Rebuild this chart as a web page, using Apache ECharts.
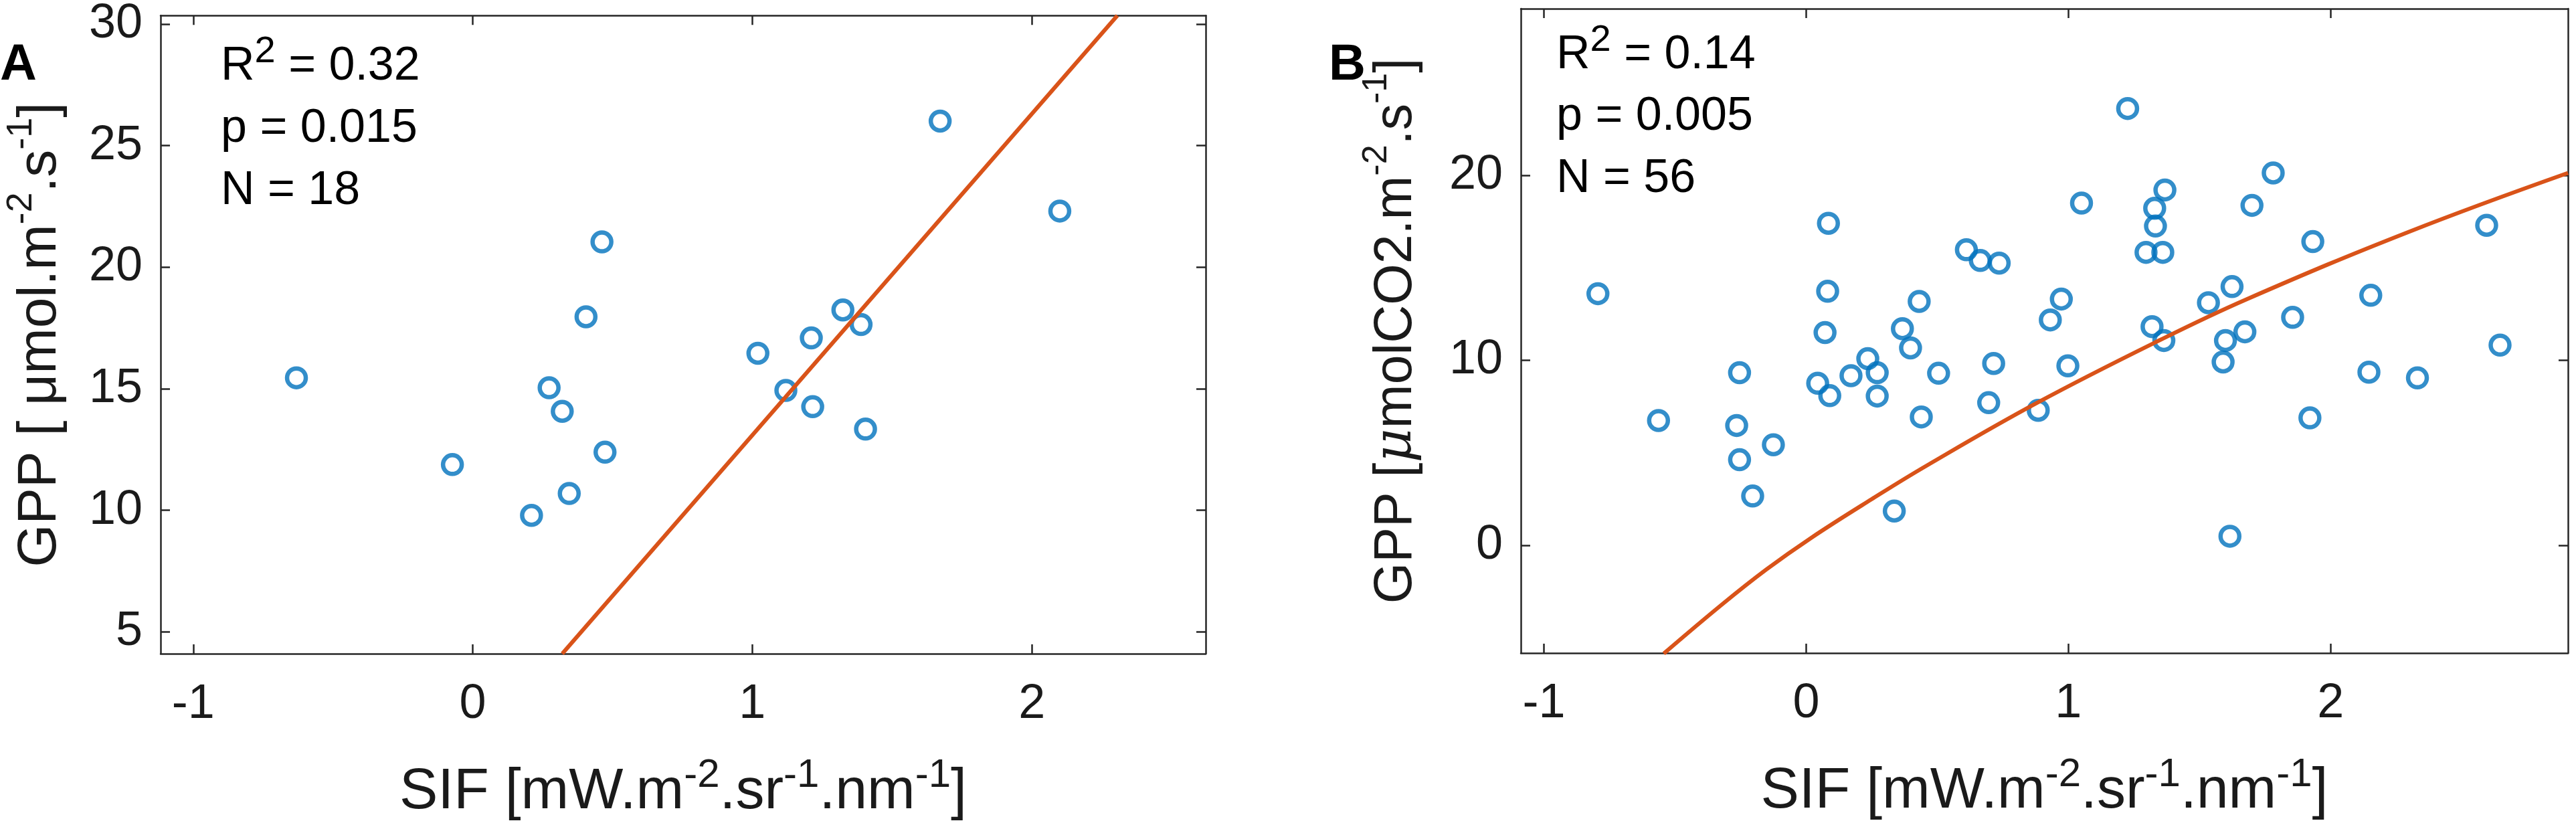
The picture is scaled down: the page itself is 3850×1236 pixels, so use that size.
<!DOCTYPE html>
<html>
<head>
<meta charset="utf-8">
<script src="https://cdn.jsdelivr.net/npm/echarts@6.0.0/dist/echarts.min.js"></script>
<style>
  html, body { margin: 0; padding: 0; background: #fff; }
  #chart { width: 3850px; height: 1236px; }
</style>
</head>
<body>
<div id="chart"></div>
<script>
// panel A : SIF vs GPP (N = 18)
const sifA = [-0.631, -0.073, 0.462, 0.405, 0.273, 0.320, 0.473, 0.345, 0.210,
    2.100, 1.324, 1.389, 1.211, 1.020, 1.120, 1.216, 1.405, 1.672];
const gppA = [15.45, 11.88, 21.04, 17.96, 15.04, 14.07, 12.39, 10.69, 9.79,
    22.31, 18.24, 17.64, 17.09, 16.46, 14.93, 14.26, 13.34, 26.01];
const fitAx = [0.32, 2.306];
const fitAy = [4.1, 30.35];

// panel B : SIF vs GPP (N = 56)
const sifB = [-0.794, -0.563, -0.254, -0.265, -0.254, -0.204, -0.125, 0.085, 0.082, 0.072,
    0.044, 0.090, 0.171, 0.235, 0.271, 0.271, 0.336, 0.367, 0.398, 0.431,
    0.439, 0.505, 0.611, 0.664, 0.736, 0.715, 0.696, 0.931, 0.973, 0.998,
    0.885, 1.050, 1.226, 1.368, 1.329, 1.332, 1.296, 1.360, 1.319, 1.364,
    1.534, 1.624, 1.673, 1.599, 1.590, 1.616, 1.700, 1.781, 1.932, 1.855,
    2.153, 2.146, 2.331, 1.921, 2.595, 2.646];
const gppB = [13.60, 6.75, 9.33, 6.48, 4.63, 2.67, 5.44, 17.40, 13.73, 11.50,
    8.76, 8.09, 9.17, 10.09, 9.33, 8.07, 1.86, 11.71, 10.67, 13.18,
    6.94, 9.30, 15.97, 15.39, 15.25, 9.83, 7.71, 12.18, 13.31, 9.70,
    7.30, 18.49, 23.60, 19.20, 18.21, 17.25, 15.83, 15.83, 11.82, 11.07,
    13.11, 13.98, 11.54, 11.07, 9.91, 0.50, 18.37, 20.12, 16.41, 12.32,
    13.51, 9.36, 9.05, 6.89, 17.29, 10.82];
// fitted curve
const fitBx = [-0.543, -0.322, -0.152, 0.018, 0.25, 0.458, 0.88, 1.35, 1.68, 2.3, 2.905];
const fitBy = [-5.84, -3.2, -1.3, 0.4, 2.5, 4.3, 7.7, 11.1, 13.3, 16.95, 20.12];

// ticks
const xTicks = [-1, 0, 1, 2];
const yTicksA = [5, 10, 15, 20, 25, 30];
const yTicksB = [0, 10, 20];

const FONT = '"Liberation Sans", Arial, Helvetica, sans-serif';
const INK = "#1a1a1a";
const AXIS = "#262626";
const BLUE = "#0072BD";
const RED = "#D95319";

// axis-name text styles: t = normal, i = italic greek, s = superscript
function nameRich(size, sup) {
    return {
        t: { fontSize: size, lineHeight: 110, fontFamily: FONT, color: INK },
        i: { fontSize: size, lineHeight: 110, fontFamily: '"DejaVu Serif", "Liberation Serif", serif', fontStyle: "italic", color: INK },
        s: { fontSize: sup, lineHeight: 30, verticalAlign: "top", fontFamily: FONT, color: INK },
    };
}
const noteRich = {
    t: { fontSize: 70, lineHeight: 100, fontFamily: FONT, color: INK },
    s: { fontSize: 56, lineHeight: 36, verticalAlign: "top", fontFamily: FONT, color: INK },
};

function pair(xs, ys) {
    return xs.map((x, i) => [x, ys[i]]);
}

// one side of the box, ticks pointing in
function boxAxis(grid, pos, min, max, ticks, labels, extra) {
    var ax = {
        type: "value",
        gridIndex: grid,
        position: pos,
        min: min,
        max: max,
        axisLine: { show: true, onZero: false, lineStyle: { color: AXIS, width: 2.5 } },
        axisTick: { show: true, inside: true, length: 14, customValues: ticks, lineStyle: { color: AXIS, width: 2.5 } },
        axisLabel: labels
            ? { show: true, customValues: ticks, fontSize: 72, lineHeight: 72, color: INK, fontFamily: FONT, margin: pos == "bottom" ? 40 : 27 }
            : { show: false },
        splitLine: { show: false },
    };
    return Object.assign(ax, extra || {});
}

const xName = "{t|SIF [mW.m}{s|-2}{t|.sr}{s|-1}{t|.nm}{s|-1}{t|]}";
const ring = { color: "rgba(0,0,0,0)", borderColor: BLUE, borderWidth: 6.5 };

var chart = echarts.init(document.getElementById("chart"), null, { renderer: "canvas" });

var option = {
    backgroundColor: "#fff",
    animation: false,
    grid: [
        { left: 240, top: 13, width: 1562, height: 964 },
        { left: 2273, top: 13, width: 1565, height: 963 },
    ],
    xAxis: [
        boxAxis(0, "bottom", -1.117, 2.622, xTicks, true, {
            name: xName, nameLocation: "middle", nameGap: 152, nameTextStyle: { rich: nameRich(86, 60) },
        }),
        boxAxis(0, "top", -1.117, 2.622, xTicks, false),
        boxAxis(1, "bottom", -1.088, 2.905, xTicks, true, {
            name: xName, nameLocation: "middle", nameGap: 152, nameTextStyle: { rich: nameRich(86, 60) },
        }),
        boxAxis(1, "top", -1.088, 2.905, xTicks, false),
    ],
    yAxis: [
        boxAxis(0, "left", 4.1, 30.35, yTicksA, true, {
            name: "{t|GPP [ μmol.m}{s|-2}{t|.s}{s|-1}{t|]}",
            nameLocation: "middle", nameGap: 125, nameTextStyle: { rich: nameRich(82, 54) },
        }),
        boxAxis(0, "right", 4.1, 30.35, yTicksA, false),
        boxAxis(1, "left", -5.81, 28.99, yTicksB, true, {
            name: "{t|GPP [}{i|μ}{t|molCO2.m}{s|-2}{t|.s}{s|-1}{t|]}",
            nameLocation: "middle", nameGap: 131, nameTextStyle: { rich: nameRich(79, 52) },
        }),
        boxAxis(1, "right", -5.81, 28.99, yTicksB, false),
    ],
    series: [
        {
            name: "A points",
            type: "scatter",
            xAxisIndex: 0,
            yAxisIndex: 0,
            data: pair(sifA, gppA),
            symbol: "circle",
            symbolSize: 28,
            itemStyle: ring,
            z: 2,
        },
        {
            name: "A fit",
            type: "line",
            xAxisIndex: 0,
            yAxisIndex: 0,
            data: pair(fitAx, fitAy),
            showSymbol: false,
            lineStyle: { color: RED, width: 6 },
            z: 3,
        },
        {
            name: "B points",
            type: "scatter",
            xAxisIndex: 2,
            yAxisIndex: 2,
            data: pair(sifB, gppB),
            symbol: "circle",
            symbolSize: 28,
            itemStyle: ring,
            z: 2,
        },
        {
            name: "B fit",
            type: "line",
            xAxisIndex: 2,
            yAxisIndex: 2,
            data: pair(fitBx, fitBy),
            smooth: 0.4,
            showSymbol: false,
            lineStyle: { color: RED, width: 6 },
            z: 3,
        },
    ],
    graphic: [
        // panel letters
        { type: "text", x: 0, y: 60, style: { text: "A", fontSize: 76, fontWeight: "bold", fontFamily: FONT, fill: "#000", verticalAlign: "alphabetic" } },
        { type: "text", x: 1986, y: 60, style: { text: "B", fontSize: 76, fontWeight: "bold", fontFamily: FONT, fill: "#000", verticalAlign: "alphabetic" } },
        // stats, panel A
        { type: "text", x: 330, y: 100, style: { text: "{t|R}{s|2}{t| = 0.32}", rich: noteRich, verticalAlign: "middle" } },
        { type: "text", x: 330, y: 193, style: { text: "{t|p = 0.015}", rich: noteRich, verticalAlign: "middle" } },
        { type: "text", x: 330, y: 286, style: { text: "{t|N = 18}", rich: noteRich, verticalAlign: "middle" } },
        // stats, panel B
        { type: "text", x: 2326, y: 83, style: { text: "{t|R}{s|2}{t| = 0.14}", rich: noteRich, verticalAlign: "middle" } },
        { type: "text", x: 2326, y: 175, style: { text: "{t|p = 0.005}", rich: noteRich, verticalAlign: "middle" } },
        { type: "text", x: 2326, y: 268, style: { text: "{t|N = 56}", rich: noteRich, verticalAlign: "middle" } },
    ],
};

chart.setOption(option);
</script>
</body>
</html>
